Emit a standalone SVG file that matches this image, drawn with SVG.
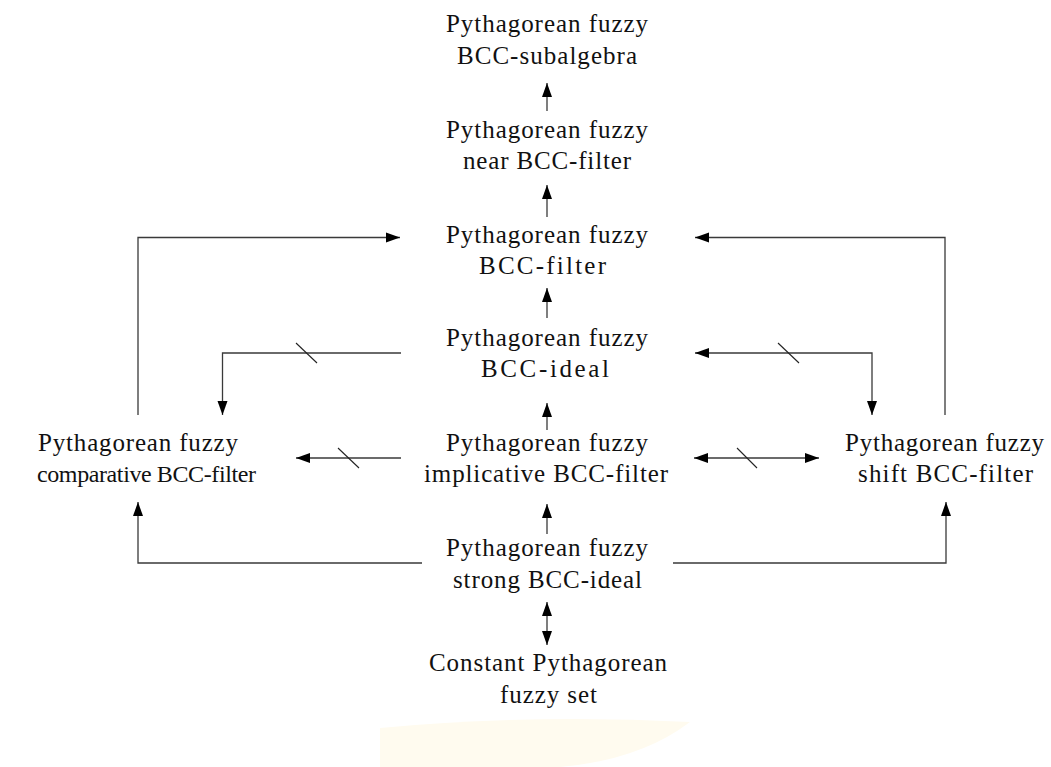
<svg xmlns="http://www.w3.org/2000/svg" width="1051" height="767" viewBox="0 0 1051 767">
<style>
  text { font-family: "Liberation Serif", "Times New Roman", serif; font-size: 25px; fill: #111; }
  .sm { font-size: 24px; }
  .c { fill: none; stroke: #3a3a3a; stroke-width: 1.3; }
  .s { fill: none; stroke: #222; stroke-width: 1.1; }
</style>
<defs>
  <marker id="ah" markerUnits="userSpaceOnUse" markerWidth="15" markerHeight="11" refX="14" refY="5" orient="auto-start-reverse" viewBox="0 0 15 10">
    <path d="M0,0 L14,5 L0,10 Z" fill="#000"/>
  </marker>
</defs>
<rect width="1051" height="767" fill="#fff"/>
<path d="M380,728 Q530,714 690,722 Q640,760 560,767 L380,767 Z" fill="#fffbef"/>
<g id="n1">
  <text x="446" y="32" textLength="202" lengthAdjust="spacing">Pythagorean fuzzy</text>
  <text x="457" y="64" textLength="180" lengthAdjust="spacing">BCC-subalgebra</text>
</g>
<g id="n2">
  <text x="446" y="138" textLength="202" lengthAdjust="spacing">Pythagorean fuzzy</text>
  <text x="463" y="169" textLength="168" lengthAdjust="spacing">near BCC-filter</text>
</g>
<g id="n3">
  <text x="446" y="243" textLength="202" lengthAdjust="spacing">Pythagorean fuzzy</text>
  <text x="479" y="274" textLength="127" lengthAdjust="spacing">BCC-filter</text>
</g>
<g id="n4">
  <text x="446" y="346" textLength="202" lengthAdjust="spacing">Pythagorean fuzzy</text>
  <text x="481" y="377" textLength="128" lengthAdjust="spacing">BCC-ideal</text>
</g>
<g id="n5">
  <text x="446" y="451" textLength="202" lengthAdjust="spacing">Pythagorean fuzzy</text>
  <text x="424" y="482" textLength="244" lengthAdjust="spacing">implicative BCC-filter</text>
</g>
<g id="n6">
  <text x="446" y="556" textLength="202" lengthAdjust="spacing">Pythagorean fuzzy</text>
  <text x="453" y="588" textLength="189" lengthAdjust="spacing">strong BCC-ideal</text>
</g>
<g id="n7">
  <text x="429" y="671" textLength="238" lengthAdjust="spacing">Constant Pythagorean</text>
  <text x="500" y="703" textLength="97" lengthAdjust="spacing">fuzzy set</text>
</g>
<g id="n8">
  <text x="38" y="451" textLength="200" lengthAdjust="spacing">Pythagorean fuzzy</text>
  <text class="sm" x="37" y="482" textLength="219" lengthAdjust="spacing">comparative BCC-filter</text>
</g>
<g id="n9">
  <text x="845" y="451" textLength="199" lengthAdjust="spacing">Pythagorean fuzzy</text>
  <text x="858" y="482" textLength="175" lengthAdjust="spacing">shift BCC-filter</text>
</g>
<g id="connectors">
  <path class="c" d="M547,111 L547,83" marker-end="url(#ah)"/>
  <path class="c" d="M547,217 L547,185" marker-end="url(#ah)"/>
  <path class="c" d="M547,318 L547,288" marker-end="url(#ah)"/>
  <path class="c" d="M547,430 L547,403" marker-end="url(#ah)"/>
  <path class="c" d="M547,534 L547,504" marker-end="url(#ah)"/>
  <path class="c" d="M547,602 L547,645" marker-start="url(#ah)" marker-end="url(#ah)"/>
  <path class="c" d="M138,415 L138,237.5 L400,237.5" marker-end="url(#ah)"/>
  <path class="c" d="M945,415 L945,237.5 L695,237.5" marker-end="url(#ah)"/>
  <path class="c" d="M401,353 L222.5,353 L222.5,415" marker-end="url(#ah)"/>
  <path class="s" d="M296,343 L317,363"/>
  <path class="c" d="M695,353 L872,353 L872,415" marker-start="url(#ah)" marker-end="url(#ah)"/>
  <path class="s" d="M778,343 L799,363"/>
  <path class="c" d="M401,458 L296,458" marker-end="url(#ah)"/>
  <path class="s" d="M338,448 L359,468"/>
  <path class="c" d="M694,458 L819,458" marker-start="url(#ah)" marker-end="url(#ah)"/>
  <path class="s" d="M737,448 L757,468"/>
  <path class="c" d="M422,563 L138,563 L138,502" marker-end="url(#ah)"/>
  <path class="c" d="M673,563 L946,563 L946,502" marker-end="url(#ah)"/>
</g>
</svg>
